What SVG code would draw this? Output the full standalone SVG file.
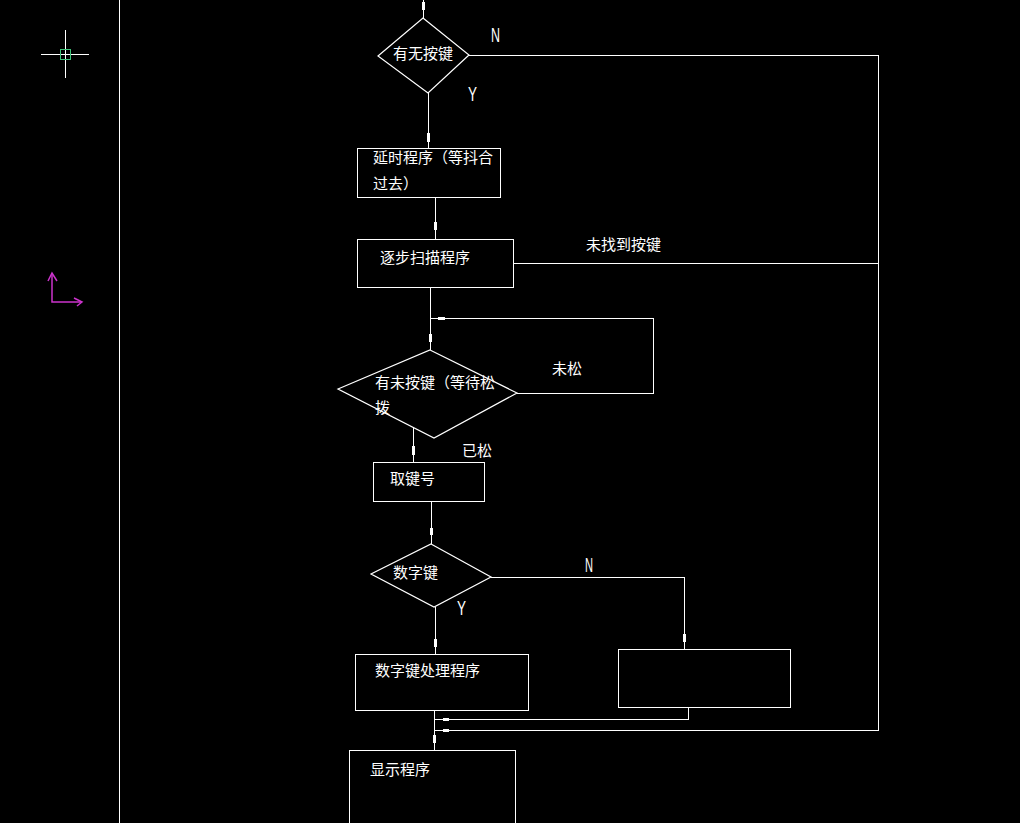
<svg xmlns="http://www.w3.org/2000/svg" width="1020" height="823" viewBox="0 0 1020 823">
<style>
.bg{fill:#000}
.sh{fill:none;stroke:#fff;stroke-width:1.2}
.bx{fill:none;stroke:#fff;stroke-width:1;shape-rendering:crispEdges}
.ln{fill:none;stroke:#fff;stroke-width:1;shape-rendering:crispEdges}
.tk{stroke:#fff;stroke-width:3;fill:none;shape-rendering:crispEdges}
.t{fill:#fff;font-family:"Noto Sans CJK SC","Noto Sans CJK JP",sans-serif;font-size:15px}
.l{fill:#fff;font-family:"Liberation Sans","DejaVu Sans",sans-serif;font-size:20px}
</style>
<rect class="bg" x="0" y="0" width="1020" height="823"/>
<g id="frame">
<line class="ln" x1="119.5" y1="0" x2="119.5" y2="823"/>
</g>
<g id="crosshair" shape-rendering="crispEdges">
<line stroke="#fff" stroke-width="1" x1="41" y1="54.5" x2="89" y2="54.5"/>
<line stroke="#fff" stroke-width="1" x1="65.5" y1="30" x2="65.5" y2="78"/>
<rect x="60.5" y="49.5" width="10" height="10" fill="none" stroke="#3fc47a" stroke-width="1"/>
</g>
<g id="ucs" stroke="#cc33cc" stroke-width="1.5" fill="none">
<polyline points="52,273 52,302 82,302"/>
<polyline points="48,281 52,273 57,281"/>
<polyline points="74,298 82,302 77,306"/>
</g>
<g id="connectors">
<line class="ln" x1="423.5" y1="0" x2="423.5" y2="18"/>
<line class="tk" x1="423.5" y1="2" x2="423.5" y2="10"/>
<polyline class="ln" points="469,55.5 878.5,55.5 878.5,730.5 434,730.5"/>
<line class="tk" x1="443" y1="730.5" x2="449" y2="730.5"/>
<line class="ln" x1="428.5" y1="93" x2="428.5" y2="148"/>
<line class="tk" x1="428.5" y1="133" x2="428.5" y2="142"/>
<line class="ln" x1="435.5" y1="197" x2="435.5" y2="239"/>
<line class="tk" x1="435.5" y1="222" x2="435.5" y2="230"/>
<line class="ln" x1="514" y1="263.5" x2="878" y2="263.5"/>
<line class="ln" x1="430.5" y1="287" x2="430.5" y2="350"/>
<line class="tk" x1="430.5" y1="334" x2="430.5" y2="342"/>
<polyline class="ln" points="517,393.5 653.5,393.5 653.5,318.5 430.5,318.5"/>
<line class="tk" x1="438" y1="318.5" x2="445" y2="318.5"/>
<line class="ln" x1="413.5" y1="427" x2="413.5" y2="462"/>
<line class="tk" x1="413.5" y1="446" x2="413.5" y2="455"/>
<line class="ln" x1="431.5" y1="502" x2="431.5" y2="544"/>
<line class="tk" x1="431.5" y1="528" x2="431.5" y2="535"/>
<polyline class="ln" points="491,577.5 684.5,577.5 684.5,649"/>
<line class="tk" x1="684.5" y1="634" x2="684.5" y2="642"/>
<line class="ln" x1="435.5" y1="607" x2="435.5" y2="654"/>
<line class="tk" x1="435.5" y1="639" x2="435.5" y2="647"/>
<line class="ln" x1="434.5" y1="710" x2="434.5" y2="750"/>
<polyline class="ln" points="688.5,708 688.5,719.5 434.5,719.5"/>
<line class="tk" x1="443" y1="719.5" x2="449" y2="719.5" stroke-width="2"/>
<line class="tk" x1="434.5" y1="735" x2="434.5" y2="743"/>
</g>
<g id="labels">
<text class="l" x="491" y="42" textLength="9" lengthAdjust="spacingAndGlyphs">N</text>
<text class="l" x="468" y="101" textLength="9" lengthAdjust="spacingAndGlyphs">Y</text>
<text class="t" x="586" y="250">未找到按键</text>
<text class="t" x="552" y="374">未松</text>
<text class="t" x="462" y="456">已松</text>
<text class="l" x="585" y="572" textLength="8" lengthAdjust="spacingAndGlyphs">N</text>
<text class="l" x="457" y="615" textLength="9" lengthAdjust="spacingAndGlyphs">Y</text>
</g>
<g id="n1">
<polygon class="sh" points="423,18 469,55 428,93 378,56"/>
<text class="t" x="393" y="59">有无按键</text>
</g>
<g id="n2">
<rect class="bx" x="357.5" y="148.5" width="143" height="49"/>
<text class="t" x="373" y="163">延时程序（等抖合</text>
<text class="t" x="373" y="189">过去）</text>
</g>
<g id="n3">
<rect class="bx" x="357.5" y="239.5" width="156" height="48"/>
<text class="t" x="380" y="263">逐步扫描程序</text>
</g>
<g id="n4">
<polygon class="sh" points="430,350 517,393 434,438 338,389"/>
<text class="t" x="375" y="388">有未按键（等待松</text>
<text class="t" x="375" y="413">拨</text>
</g>
<g id="n5">
<rect class="bx" x="373.5" y="462.5" width="111" height="39"/>
<text class="t" x="390" y="484">取键号</text>
</g>
<g id="n6">
<polygon class="sh" points="431,544 491,577 434,607 371,574"/>
<text class="t" x="393" y="578">数字键</text>
</g>
<g id="n7">
<rect class="bx" x="355.5" y="654.5" width="173" height="56"/>
<text class="t" x="375" y="676">数字键处理程序</text>
</g>
<g id="n8">
<rect class="bx" x="618.5" y="649.5" width="172" height="58"/>
</g>
<g id="n9">
<rect class="bx" x="349.5" y="750.5" width="166" height="90"/>
<text class="t" x="370" y="775">显示程序</text>
</g>
</svg>
